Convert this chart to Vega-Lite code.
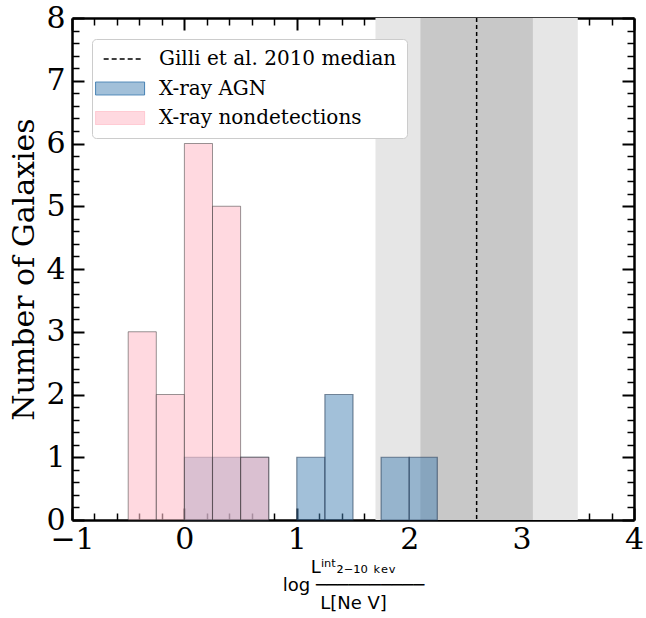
{
  "$schema": "https://vega.github.io/schema/vega-lite/v6.json",
  "width": 562,
  "height": 502,
  "autosize": "none",
  "padding": {"left": 72, "top": 18, "right": 12, "bottom": 98},
  "background": "white",
  "config": {
    "view": {"stroke": null},
    "axis": {"zindex": 1, "grid": false, "labelFont": "DejaVu Serif", "labelFontSize": 30, "labelColor": "black", "titleFont": "DejaVu Serif", "titleFontWeight": "normal", "titleColor": "black", "tickColor": "black", "domainColor": "black"},
    "legend": {
      "title": null, "orient": "none", "legendX": 20, "legendY": 21,
      "labelFont": "DejaVu Serif", "labelFontSize": 20, "labelColor": "black", "labelOffset": 37, "labelLimit": 400,
      "symbolSize": 2401, "rowPadding": 9.5,
      "padding": 10, "fillColor": "white", "strokeColor": "#cccccc", "cornerRadius": 4
    }
  },
  "datasets": {
    "hist": [
      {"series": "X-ray AGN", "x0": 0.0, "x1": 0.25, "count": 1},
      {"series": "X-ray AGN", "x0": 0.25, "x1": 0.5, "count": 1},
      {"series": "X-ray AGN", "x0": 0.5, "x1": 0.75, "count": 1},
      {"series": "X-ray AGN", "x0": 1.0, "x1": 1.25, "count": 1},
      {"series": "X-ray AGN", "x0": 1.25, "x1": 1.5, "count": 2},
      {"series": "X-ray AGN", "x0": 1.75, "x1": 2.0, "count": 1},
      {"series": "X-ray AGN", "x0": 2.0, "x1": 2.25, "count": 1},
      {"series": "X-ray nondetections", "x0": -0.5, "x1": -0.25, "count": 3},
      {"series": "X-ray nondetections", "x0": -0.25, "x1": 0.0, "count": 2},
      {"series": "X-ray nondetections", "x0": 0.0, "x1": 0.25, "count": 6},
      {"series": "X-ray nondetections", "x0": 0.25, "x1": 0.5, "count": 5},
      {"series": "X-ray nondetections", "x0": 0.5, "x1": 0.75, "count": 1}
    ],
    "bands": [
      {"band": "outer", "lo": 1.7, "hi": 3.5},
      {"band": "inner", "lo": 2.1, "hi": 3.1}
    ],
    "median": [{"series": "Gilli et al. 2010 median", "x": 2.6}]
  },
  "resolve": {"axis": {"x": "independent", "y": "independent"}},
  "layer": [
    {
      "data": {"name": "bands"},
      "transform": [{"filter": "datum.band == 'outer'"}],
      "mark": {"type": "rect", "fill": "#e6e6e6"},
      "encoding": {
        "x": {"field": "lo", "type": "quantitative", "scale": {"domain": [-1, 4], "nice": false, "zero": false}, "axis": null},
        "x2": {"field": "hi"}
      }
    },
    {
      "data": {"name": "bands"},
      "transform": [{"filter": "datum.band == 'inner'"}],
      "mark": {"type": "rect", "fill": "#c8c8c8"},
      "encoding": {
        "x": {"field": "lo", "type": "quantitative", "axis": null},
        "x2": {"field": "hi"}
      }
    },
    {
      "data": {"name": "median"},
      "mark": {"type": "rule", "strokeDash": [4, 3], "strokeWidth": 1.5},
      "encoding": {
        "x": {"field": "x", "type": "quantitative", "axis": null},
        "color": {"field": "series", "type": "nominal",
          "scale": {"domain": ["Gilli et al. 2010 median", "X-ray AGN", "X-ray nondetections"], "range": ["black", "#4682b4", "#ffc0cb"]},
          "legend": {
            "encode": {"symbols": {"update": {
              "shape": {"signal": "datum.value == 'Gilli et al. 2010 median' ? 'M-0.34,0H1.29' : 'M-0.67,-0.265H1.33V0.265H-0.67Z'"},
              "strokeDash": {"signal": "datum.value == 'Gilli et al. 2010 median' ? [5,3] : [1,0]"},
              "fill": {"signal": "datum.value == 'X-ray AGN' ? '#4682b4' : (datum.value == 'X-ray nondetections' ? '#ffc0cb' : 'transparent')"},
              "fillOpacity": {"signal": "datum.value == 'X-ray AGN' ? 0.5 : 0.6"},
              "stroke": {"signal": "datum.value == 'Gilli et al. 2010 median' ? 'black' : '#888888'"},
              "strokeWidth": {"signal": "datum.value == 'Gilli et al. 2010 median' ? 1.5 : 1"},
              "opacity": {"value": 1}
            }}}
          }}
      }
    },
    {
      "data": {"name": "hist"},
      "transform": [{"filter": "datum.series == 'X-ray AGN'"}],
      "mark": {"type": "rect", "fillOpacity": 0.5, "stroke": "#1f3550", "strokeOpacity": 0.55, "strokeWidth": 1.2},
      "encoding": {
        "x": {"field": "x0", "type": "quantitative", "scale": {"domain": [-1, 4], "nice": false, "zero": false},
          "axis": {"orient": "bottom", "values": [-1, 0, 1, 2, 3, 4], "format": "d", "tickSize": -12, "tickWidth": 2, "domainWidth": 2.5, "labelPadding": 16, "labelFlush": false,
            "title": ["\u00a0\u00a0\u00a0\u00a0\u00a0\u00a0\u00a0Lⁱⁿᵗ₂₋₁₀ ₖₑᵥ", "log ──────────", "\u00a0\u00a0\u00a0\u00a0\u00a0\u00a0\u00a0L[Ne V]"],
            "titleFont": "DejaVu Sans", "titleFontSize": 18, "titleLineHeight": 18, "titlePadding": 4}},
        "x2": {"field": "x1"},
        "y": {"field": "count", "type": "quantitative", "scale": {"domain": [0, 8], "nice": false, "zero": true},
          "axis": {"orient": "left", "values": [0, 1, 2, 3, 4, 5, 6, 7, 8], "format": "d", "tickSize": -12, "tickWidth": 2, "domainWidth": 2.5, "labelPadding": 19, "labelFlush": false,
            "title": "Number of Galaxies", "titleFontSize": 30, "titlePadding": 6}},
        "y2": {"datum": 0},
        "color": {"field": "series", "type": "nominal"}
      }
    },
    {
      "data": {"name": "hist"},
      "transform": [{"filter": "datum.series == 'X-ray nondetections'"}],
      "mark": {"type": "rect", "fillOpacity": 0.6, "stroke": "#333333", "strokeOpacity": 0.5, "strokeWidth": 1},
      "encoding": {
        "x": {"field": "x0", "type": "quantitative",
          "axis": {"orient": "bottom", "values": [-0.8, -0.6, -0.4, -0.2, 0.2, 0.4, 0.6, 0.8, 1.2, 1.4, 1.6, 1.8, 2.2, 2.4, 2.6, 2.8, 3.2, 3.4, 3.6, 3.8], "labels": false, "domain": false, "tickSize": -7, "tickWidth": 1.5, "title": null}},
        "x2": {"field": "x1"},
        "y": {"field": "count", "type": "quantitative",
          "axis": {"orient": "left", "values": [0.2, 0.4, 0.6, 0.8, 1.2, 1.4, 1.6, 1.8, 2.2, 2.4, 2.6, 2.8, 3.2, 3.4, 3.6, 3.8, 4.2, 4.4, 4.6, 4.8, 5.2, 5.4, 5.6, 5.8, 6.2, 6.4, 6.6, 6.8, 7.2, 7.4, 7.6, 7.8], "labels": false, "domain": false, "tickSize": -7, "tickWidth": 1.5, "title": null}},
        "y2": {"datum": 0},
        "color": {"field": "series", "type": "nominal"}
      }
    },
    {
      "data": {"name": "hist"},
      "mark": {"type": "rect", "opacity": 0},
      "encoding": {
        "x": {"field": "x0", "type": "quantitative",
          "axis": {"orient": "top", "values": [-1, 0, 1, 2, 3, 4], "labels": false, "tickSize": -12, "tickWidth": 2, "domainWidth": 2.5, "title": null}},
        "x2": {"field": "x1"},
        "y": {"field": "count", "type": "quantitative",
          "axis": {"orient": "right", "values": [0, 1, 2, 3, 4, 5, 6, 7, 8], "labels": false, "tickSize": -12, "tickWidth": 2, "domainWidth": 2.5, "title": null}},
        "y2": {"datum": 0}
      }
    },
    {
      "data": {"name": "hist"},
      "mark": {"type": "rect", "opacity": 0},
      "encoding": {
        "x": {"field": "x0", "type": "quantitative",
          "axis": {"orient": "top", "values": [-0.8, -0.6, -0.4, -0.2, 0.2, 0.4, 0.6, 0.8, 1.2, 1.4, 1.6, 1.8, 2.2, 2.4, 2.6, 2.8, 3.2, 3.4, 3.6, 3.8], "labels": false, "domain": false, "tickSize": -7, "tickWidth": 1.5, "title": null}},
        "x2": {"field": "x1"},
        "y": {"field": "count", "type": "quantitative",
          "axis": {"orient": "right", "values": [0.2, 0.4, 0.6, 0.8, 1.2, 1.4, 1.6, 1.8, 2.2, 2.4, 2.6, 2.8, 3.2, 3.4, 3.6, 3.8, 4.2, 4.4, 4.6, 4.8, 5.2, 5.4, 5.6, 5.8, 6.2, 6.4, 6.6, 6.8, 7.2, 7.4, 7.6, 7.8], "labels": false, "domain": false, "tickSize": -7, "tickWidth": 1.5, "title": null}},
        "y2": {"datum": 0}
      }
    }
  ]
}
